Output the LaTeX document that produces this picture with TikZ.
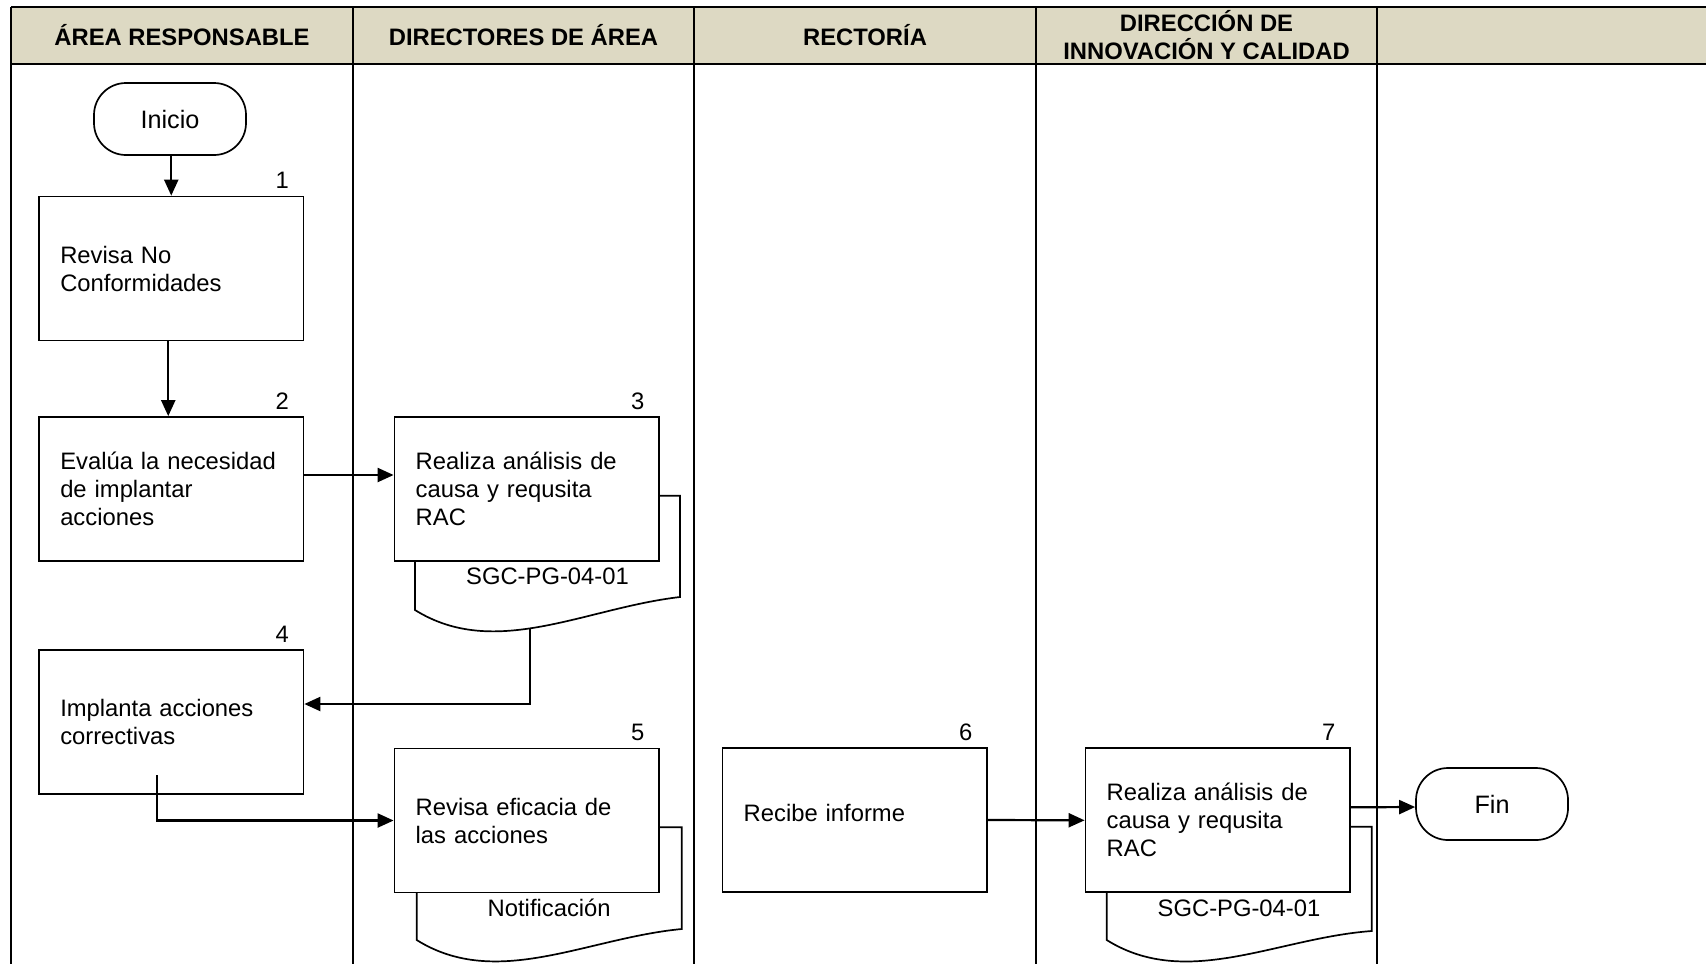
\documentclass[tikz,border=0pt]{standalone}
\usepackage{fontspec}
\setmainfont{Liberation Sans}
\usetikzlibrary{arrows.meta,calc}
\definecolor{hdr}{RGB}{221,217,195}
\begin{document}
\begin{tikzpicture}[x=0.5pt,y=-0.5pt,
  box/.style={draw,line width=0.85pt,fill=white,minimum width=132.25pt,minimum height=72pt,text width=111pt,inner xsep=10.6pt,align=left,font=\fontsize{11.9}{14}\selectfont},
  term/.style={draw,line width=0.85pt,fill=white,rounded corners=16pt,minimum width=76pt,minimum height=36pt,font=\fontsize{12.6}{15}\selectfont},
  num/.style={anchor=base east,inner sep=0pt,font=\fontsize{11.9}{14}\selectfont},
  hdrtext/.style={align=center,inner sep=0pt,font=\bfseries\fontsize{11.9}{14}\selectfont},
  lane/.style={line width=1pt},
  hline/.style={line width=1.3pt},
  conn/.style={line width=1.1pt,-{Triangle[length=8pt,width=7pt]}},
  doc/.style={draw,line width=0.85pt,fill=white},
  doctext/.style={font=\fontsize{11.9}{14}\selectfont,inner sep=0pt},
]
\useasboundingbox (0,0) rectangle (1706,964);
% header
\fill[hdr] (11,7) rectangle (1706,64);
\foreach \x in {11,353,694,1036,1377} \draw[lane] (\x,7) -- (\x,964);
\draw[hline] (11,7) -- (1706,7);
\draw[hline] (11,64) -- (1706,64);
\node[hdrtext] (h1) at (182,35) {ÁREA RESPONSABLE};
\node[hdrtext] (h2) at (523.5,35) {DIRECTORES DE ÁREA};
\node[hdrtext] (h3) at (865,35) {RECTORÍA};
\node[hdrtext] (h4) at (1206.5,35) {DIRECCIÓN DE\\INNOVACIÓN Y CALIDAD};
% document shapes (behind boxes)
\draw[doc] (415,495.7) -- (680,495.7) -- (680,597) .. controls (585,608) and (495,660) .. (415,610) -- cycle;
\draw[doc] (416.7,827.3) -- (681.7,827.3) -- (681.7,929) .. controls (586.7,938) and (496.7,990) .. (416.7,940) -- cycle;
\draw[doc] (1106.7,826.7) -- (1371.7,826.7) -- (1371.7,931) .. controls (1276.7,938) and (1186.7,990) .. (1106.7,940) -- cycle;
\node[doctext] (d3) at (547.5,576.7) {SGC-PG-04-01};
\node[doctext] (d5) at (549.2,908.3) {Notificación};
\node[doctext] (d7) at (1239,908.3) {SGC-PG-04-01};
% nodes
\node[term] (ini) at (170,119) {Inicio};
\node[box] (b1) at (171.25,268.5) {Revisa No\\Conformidades};
\node[box] (b2) at (171.25,489) {Evalúa la necesidad\\de implantar\\acciones};
\node[box] (b3) at (526.7,489) {Realiza análisis de\\causa y requsita\\RAC};
\node[box] (b4) at (171.25,722) {Implanta acciones\\correctivas};
\node[box] (b5) at (526.7,820.5) {Revisa eficacia de\\las acciones};
\node[box] (b6) at (854.7,820) {\raisebox{0pt}[\height][\dimexpr\depth+7pt\relax]{Recibe informe}};
\node[box] (b7) at (1217.7,820.3) {Realiza análisis de\\causa y requsita\\RAC};
\node[term] (fin) at (1492,804) {Fin};
% step numbers
\node[num] (n1) at ($(b1.north east)+(-15,-7)$) {1};
\node[num] (n2) at ($(b2.north east)+(-15,-7)$) {2};
\node[num] (n3) at ($(b3.north east)+(-15,-7)$) {3};
\node[num] (n4) at ($(b4.north east)+(-15,-7)$) {4};
\node[num] (n5) at ($(b5.north east)+(-15,-7)$) {5};
\node[num] (n6) at ($(b6.north east)+(-15,-7)$) {6};
\node[num] (n7) at ($(b7.north east)+(-15,-7)$) {7};
% connectors
\coordinate (d3b) at (530,628);
\coordinate (c4) at (157,775);
\draw[conn] (ini.south -| b1.north) -- (b1.north);
\draw[conn] ([xshift=-1.5pt]b1.south) -- ([xshift=-1.5pt]b2.north);
\draw[conn] ([yshift=7pt]b2.east) -- ([yshift=7pt]b3.west);
\draw[conn] (d3b) |- ([yshift=9pt]b4.east);
\draw[conn] (c4) |- (b5.west);
\draw[conn] (b6.east) -- (b7.west);
\draw[conn] ([yshift=6.5pt]b7.east) -- ([yshift=-1.5pt]fin.west);
\end{tikzpicture}
\end{document}
